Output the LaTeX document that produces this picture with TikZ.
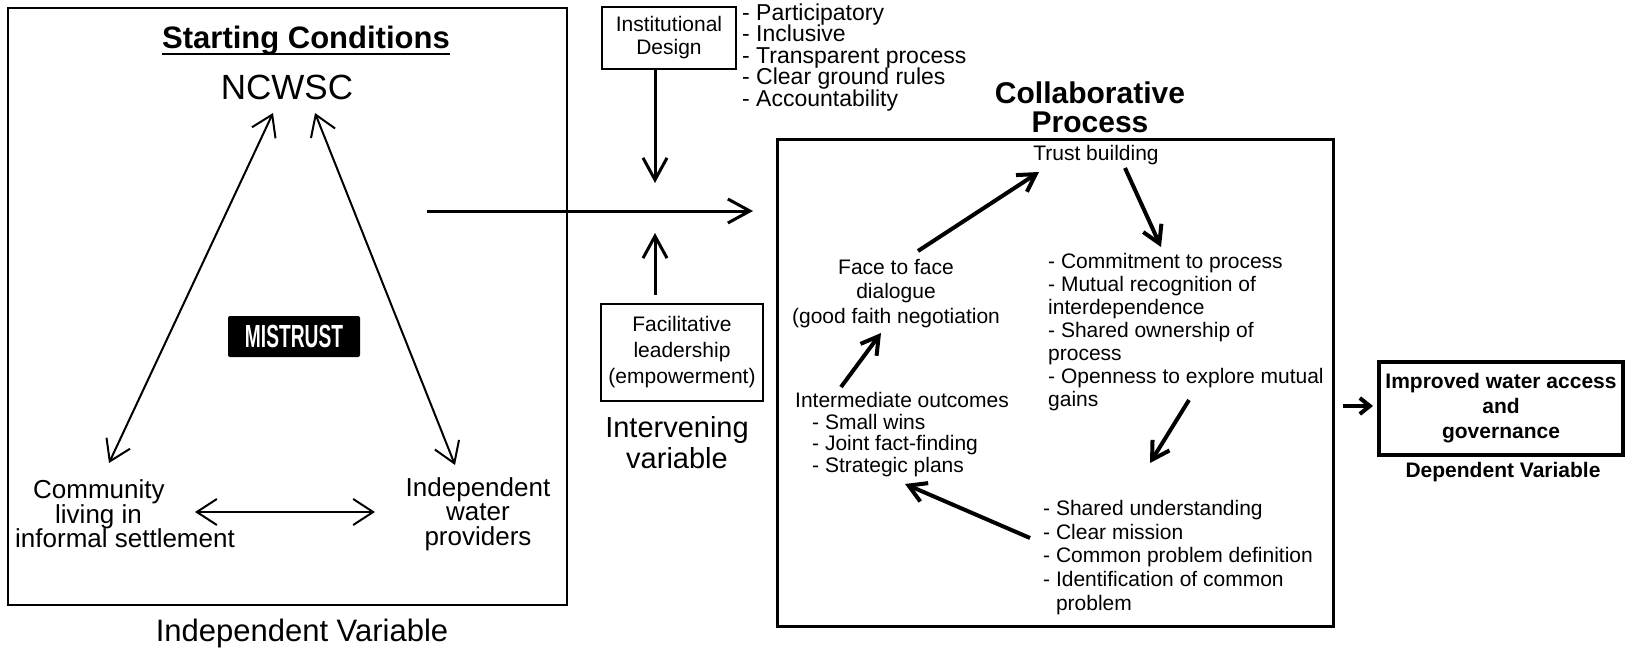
\documentclass[tikz,border=0pt]{standalone}
\usepackage{graphicx}
\usepackage{fontspec}
\setmainfont{Liberation Sans}
\usetikzlibrary{arrows.meta}
\pgfdeclarelayer{nodelayer}
\pgfdeclarelayer{edgelayer}
\pgfsetlayers{edgelayer,nodelayer,main}
\newcommand{\ulheading}[1]{\setbox0=\hbox{#1}\rlap{\rule[-6pt]{\wd0}{2pt}}\box0}
\tikzstyle{frame}=[draw=black, fill=none, shape=rectangle, line width=2pt, inner sep=0pt]
\tikzstyle{small box}=[draw=black, fill=none, shape=rectangle, line width=2.5pt, inner sep=0pt, align=center, font=\fontsize{21}{23}\selectfont]
\tikzstyle{result box}=[draw=black, fill=none, shape=rectangle, line width=3.5pt, inner sep=0pt, align=center, font=\bfseries\fontsize{21}{25}\selectfont]
\tikzstyle{black label}=[fill=black, text=white, shape=rectangle, rounded corners=2pt, inner sep=0pt, minimum width=132pt, minimum height=41pt, font=\bfseries\fontsize{32}{32}\selectfont]
\tikzstyle{heading}=[inner sep=0pt, align=center, font=\bfseries\fontsize{30}{29}\selectfont]
\tikzstyle{big label}=[inner sep=0pt, font=\fontsize{35}{35}\selectfont]
\tikzstyle{side label}=[inner sep=0pt, align=center, font=\fontsize{26}{24.5}\selectfont]
\tikzstyle{caption label}=[inner sep=0pt, align=center, font=\fontsize{31}{31}\selectfont]
\tikzstyle{text label}=[inner sep=0pt, align=center, font=\fontsize{21}{24.5}\selectfont]
\tikzstyle{list label}=[inner sep=0pt, align=left, anchor=west, font=\fontsize{21}{23}\selectfont]
\tikzstyle{none}=[fill=none, draw=none, shape=circle, inner sep=0pt, minimum size=0pt]
\tikzstyle{link edge}=[draw=black, line width=2pt, {Straight Barb[length=20pt,width=26pt]}-{Straight Barb[length=20pt,width=26pt]}]
\tikzstyle{flow edge}=[draw=black, line width=3pt, -{Straight Barb[length=22pt,width=24pt]}]
\tikzstyle{cycle edge}=[draw=black, line width=4pt, -{Straight Barb[length=17pt,width=20pt]}]
\tikzstyle{short edge}=[draw=black, line width=4pt, -{Straight Barb[length=10pt,width=16pt]}]

\begin{document}
\begin{tikzpicture}[x=1pt, y=-1pt]
	\useasboundingbox (0,0) rectangle (1625,650);
	\begin{pgfonlayer}{nodelayer}
		% starting conditions
		\node [style=frame, minimum width=559pt, minimum height=597pt] (0) at (287.5, 306.5) {};
		\node [style=heading, anchor=base, font=\bfseries\fontsize{31}{31}\selectfont] (1) at (306, 49) {\ulheading{Starting Conditions}};
		\node [style=big label] (2) at (287, 87) {NCWSC};
		\node [style=black label] (3) at (294, 336.5) {\scalebox{0.6}[1]{MISTRUST}};
		\node [style=side label, align=left, anchor=west] (4) at (15, 514) {\hspace{18pt}Community\\\hspace{40pt}living in\\informal settlement};
		\node [style=side label] (5) at (478, 514) {Independent\\water\\providers};
		\node [style=caption label] (6) at (302, 633) {Independent Variable};
		\node [style=none] (7) at (273, 113) {};
		\node [style=none] (8) at (109, 463) {};
		\node [style=none] (9) at (315, 113) {};
		\node [style=none] (10) at (455, 465) {};
		\node [style=none] (11) at (195, 512) {};
		\node [style=none] (12) at (375, 512) {};
		% intervening variable
		\node [style=small box, minimum width=134pt, minimum height=62pt] (13) at (669, 38) {Institutional\\Design};
		\node [style=list label, font=\fontsize{23}{21.5}\selectfont] (14) at (742, 57.5) {- Participatory\\- Inclusive\\- Transparent process\\- Clear ground rules\\- Accountability};
		\node [style=small box, minimum width=162pt, minimum height=97pt, font=\fontsize{21}{26}\selectfont] (15) at (682, 352.5) {Facilitative\\leadership\\(empowerment)};
		\node [style=caption label, font=\fontsize{29}{31}\selectfont] (16) at (677, 442.5) {Intervening\\variable};
		\node [style=none] (17) at (427, 211) {};
		\node [style=none] (18) at (753, 211) {};
		\node [style=none] (19) at (655, 69) {};
		\node [style=none] (20) at (655, 183) {};
		\node [style=none] (21) at (655, 295) {};
		\node [style=none] (22) at (655, 233) {};
		% collaborative process
		\node [style=heading] (23) at (1090, 107) {Collaborative\\Process};
		\node [style=frame, line width=3pt, minimum width=556pt, minimum height=486pt] (24) at (1055, 383) {};
		\node [style=text label] (25) at (1096, 155) {Trust building};
		\node [style=text label] (26) at (896, 293.5) {Face to face\\dialogue\\(good faith negotiation};
		\node [style=list label] (27) at (1048, 332.5) {- Commitment to process\\- Mutual recognition of\\interdependence\\- Shared ownership of\\process\\- Openness to explore mutual\\gains};
		\node [style=list label, font=\fontsize{21}{23.75}\selectfont] (28) at (1043, 557.5) {- Shared understanding\\- Clear mission\\- Common problem definition\\- Identification of common\\\phantom{- }problem};
		\node [style=list label, font=\fontsize{21}{21.7}\selectfont] (29) at (795, 434.5) {Intermediate outcomes\\\hspace{17pt}- Small wins\\\hspace{17pt}- Joint fact-finding\\\hspace{17pt}- Strategic plans};
		\node [style=none] (30) at (918, 251) {};
		\node [style=none] (31) at (1039, 172) {};
		\node [style=none] (32) at (1125, 168) {};
		\node [style=none] (33) at (1161, 247) {};
		\node [style=none] (34) at (1189, 400) {};
		\node [style=none] (35) at (1150, 463) {};
		\node [style=none] (36) at (1030, 538) {};
		\node [style=none] (37) at (905, 484) {};
		\node [style=none] (38) at (841, 387) {};
		\node [style=none] (39) at (881, 333) {};
		% dependent variable
		\node [style=result box, minimum width=244pt, minimum height=93pt] (40) at (1501, 408.5) {Improved water access\\and\\governance};
		\node [style=text label, font=\bfseries\fontsize{21}{25}\selectfont] (41) at (1503, 472) {Dependent Variable};
		\node [style=none] (42) at (1343, 406) {};
		\node [style=none] (43) at (1373, 406) {};
	\end{pgfonlayer}
	\begin{pgfonlayer}{edgelayer}
		\draw [style=link edge] (7.center) to (8.center);
		\draw [style=link edge] (9.center) to (10.center);
		\draw [style=link edge] (11.center) to (12.center);
		\draw [style=flow edge] (17.center) to (18.center);
		\draw [style=flow edge] (19.center) to (20.center);
		\draw [style=flow edge] (21.center) to (22.center);
		\draw [style=cycle edge] (30.center) to (31.center);
		\draw [style=cycle edge] (32.center) to (33.center);
		\draw [style=cycle edge] (34.center) to (35.center);
		\draw [style=cycle edge] (36.center) to (37.center);
		\draw [style=cycle edge] (38.center) to (39.center);
		\draw [style=short edge] (42.center) to (43.center);
	\end{pgfonlayer}
\end{tikzpicture}
\end{document}
